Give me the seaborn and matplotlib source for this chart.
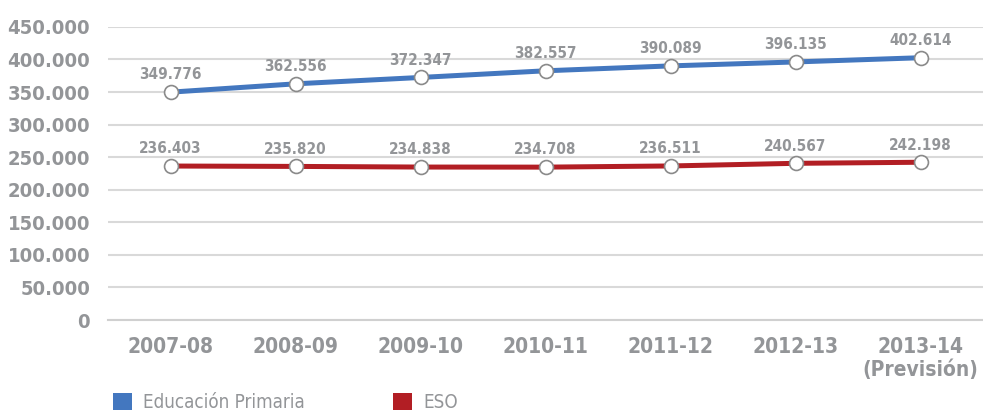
import pandas as pd
import matplotlib.pyplot as plt
import seaborn as sns
from matplotlib.patches import Patch
from matplotlib.ticker import FixedLocator

# data
years = ['2007-08', '2008-09', '2009-10', '2010-11', '2011-12', '2012-13', '2013-14\n(Previsión)']
primaria = [349776, 362556, 372347, 382557, 390089, 396135, 402614]
eso = [236403, 235820, 234838, 234708, 236511, 240567, 242198]
series_names = ['Educación Primaria', 'ESO']
colors = ['#4377bf', '#b21e24']
grey = '#939598'

sns.set_style('white')
plt.rcParams['font.family'] = ['DejaVu Sans']
plt.rcParams['font.stretch'] = 'condensed'

df = pd.DataFrame({
    'year': years * 2,
    'value': primaria + eso,
    'serie': [series_names[0]] * len(years) + [series_names[1]] * len(years),
})

fig = plt.figure(figsize=(9.83, 4.13), dpi=100)
ax = fig.add_axes([0.11, 0.225, 0.89, 0.71])

sns.lineplot(data=df, x='year', y='value', hue='serie', palette=colors,
             linewidth=3.6, marker='o', markersize=10, markerfacecolor='white',
             markeredgecolor='#8a8a8a', markeredgewidth=1.2, legend=False, ax=ax, sort=False)

# data labels
for vals in [primaria, eso]:
    for i, v in enumerate(vals):
        ax.annotate(f'{v:,}'.replace(',', '.'), (i, v), xytext=(0, 7), textcoords='offset points',
                    ha='center', va='bottom', fontsize=11, fontweight='bold', color=grey)

ax.set_xlim(-0.5, 6.5)
ax.set_ylim(0, 450000)
ax.set_yticks(range(0, 450001, 50000))
ax.set_yticklabels([f'{t:,}'.replace(',', '.') for t in range(0, 450001, 50000)])
ax.yaxis.grid(True, color='#d9d9d9', linewidth=1.5)
ax.set_axisbelow(True)
ax.set_xlabel('')
ax.set_ylabel('')

for s in ['top', 'right', 'left']:
    ax.spines[s].set_visible(False)
ax.spines['bottom'].set_color('#d0d0d0')
ax.spines['bottom'].set_linewidth(1.5)

ax.tick_params(axis='y', length=0, pad=13, labelsize=14.5, labelcolor=grey)
ax.tick_params(axis='x', which='major', length=0, pad=12, labelsize=15, labelcolor=grey)
ax.xaxis.set_minor_locator(FixedLocator([i - 0.5 for i in range(8)]))
ax.tick_params(axis='x', which='minor', direction='in', length=8, width=1, color='#d0d0d0')
for lab in ax.get_xticklabels() + ax.get_yticklabels():
    lab.set_fontweight('bold')
    lab.set_linespacing(1.15)

handles = [Patch(facecolor=c, edgecolor='none') for c in colors]
fig.legend(handles, series_names, loc='lower left', bbox_to_anchor=(0.098, -0.038), ncol=2,
           frameon=False, fontsize=13.5, labelcolor=grey, handlelength=1.0, handleheight=1.0,
           handletextpad=0.6, columnspacing=4.7)

fig.savefig('out.png', dpi=100)
